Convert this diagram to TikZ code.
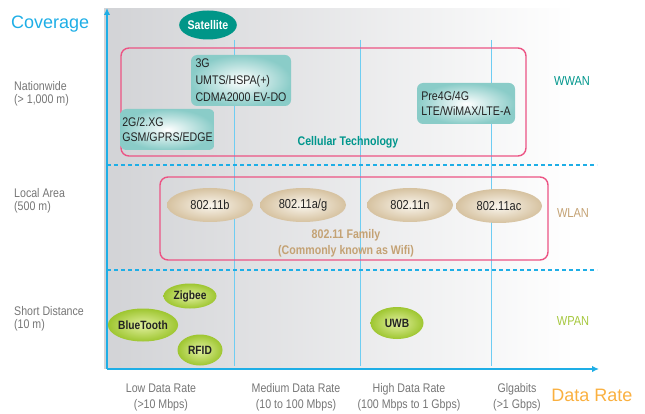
\documentclass[tikz,border=0pt]{standalone}
\usepackage{fontspec}
\setmainfont{Liberation Sans}[FakeStretch=0.85]
\newfontfamily\widefont{Liberation Sans}
\usetikzlibrary{shapes.geometric,arrows.meta}

\definecolor{axisblue}{RGB}{30,174,230}
\definecolor{gridblue}{RGB}{110,205,242}
\definecolor{panelgray}{RGB}{210,211,214}
\definecolor{frame}{RGB}{236,84,132}
\definecolor{tealdark}{RGB}{0,150,136}
\definecolor{tealtext}{RGB}{0,150,140}
\definecolor{tealbox}{RGB}{138,204,200}
\definecolor{tanedge}{RGB}{214,194,160}
\definecolor{tancore}{RGB}{250,246,238}
\definecolor{tantext}{RGB}{196,162,116}
\definecolor{greenedge}{RGB}{158,198,48}
\definecolor{greencore}{RGB}{226,240,160}
\definecolor{greentext}{RGB}{166,200,62}
\definecolor{labelgray}{RGB}{118,118,118}
\definecolor{orangetext}{RGB}{250,176,64}
\definecolor{ink}{RGB}{35,35,35}

\begin{document}
\begin{tikzpicture}[x=1pt,y=-1pt,
  axisline/.style={draw=axisblue,line width=2pt,-{Latex[length=7pt,width=6.5pt]}},
  gridline/.style={draw=gridblue,line width=0.9pt},
  zoneline/.style={draw=axisblue,line width=1.1pt,dash pattern=on 4pt off 3pt},
  groupframe/.style={draw=frame,line width=1.4pt,rounded corners=8pt},
  techbox/.style={rectangle,rounded corners=6pt,inner color=white,outer color=tealbox,
    align=left,inner sep=2pt,text=ink,font=\fontsize{12.5}{15}\selectfont},
  wifi/.style={ellipse,inner sep=0pt,minimum width=86pt,minimum height=34pt,
    inner color=tancore,outer color=tanedge,text=ink,font=\fontsize{13}{15}\selectfont},
  pan/.style={ellipse,inner sep=0pt,inner color=greencore,outer color=greenedge,
    text=ink,font=\bfseries\fontsize{12}{14}\selectfont},
  sidelabel/.style={align=left,text=labelgray,inner sep=0pt,anchor=west,
    font=\fontsize{12.5}{13}\selectfont},
  ratelabel/.style={align=center,text=labelgray,inner sep=0pt,
    font=\fontsize{12.5}{16}\selectfont},
  bandlabel/.style={inner sep=0pt,font=\fontsize{13}{15}\selectfont},
  axistitle/.style={inner sep=0pt,font=\widefont\fontsize{18}{20}\selectfont}]

\useasboundingbox (0,0) rectangle (645,414);

% shaded plotting area
\shade[left color=panelgray,right color=white] (104,9) rectangle (575,368);

% data-rate column separators
\coordinate (g1t) at (234,40);  \coordinate (g1b) at (234,366);
\coordinate (g2t) at (360,40);  \coordinate (g2b) at (360,366);
\coordinate (g3t) at (491,40);  \coordinate (g3b) at (491,366);
\draw[gridline] (g1t) -- (g1b);
\draw[gridline] (g2t) -- (g2b);
\draw[gridline] (g3t) -- (g3b);

% coverage zone separators
\coordinate (z1l) at (107,165); \coordinate (z1r) at (597,165);
\coordinate (z2l) at (107,270); \coordinate (z2r) at (597,270);
\draw[zoneline] (z1l) -- (z1r);
\draw[zoneline] (z2l) -- (z2r);

% group frames
\draw[groupframe] (121,48) rectangle (526,156);
\draw[groupframe] (160,177) rectangle (548,260);

% axes
\coordinate (origin) at (107,369);
\coordinate (ytop) at (107,8);
\coordinate (xend) at (599,369);
\draw[axisline] (origin) -- (ytop);
\draw[axisline] (origin) -- (xend);

% axis titles
\node[axistitle,text=axisblue,anchor=west] (covtitle) at (11,24) {Coverage};
\node[axistitle,text=orangetext] (ratetitle) at (592,395) {Data Rate};

% coverage labels
\node[sidelabel] (nation) at (14,93.5) {Nationwide\\(> 1,000 m)};
\node[sidelabel] (local) at (14,201) {Local Area\\(500 m)};
\node[sidelabel] (short) at (14,318.5) {Short Distance\\(10 m)};

% data-rate labels
\node[ratelabel] (low) at (161,397) {Low Data Rate\\(>10 Mbps)};
\node[ratelabel] (medium) at (296,397) {Medium Data Rate\\(10 to 100 Mbps)};
\node[ratelabel] (high) at (409,397) {High Data Rate\\(100 Mbps to 1 Gbps)};
\node[ratelabel] (giga) at (517,397) {Glgabits\\(>1 Gbps)};

% WWAN
\node[ellipse,fill=tealdark,inner sep=0pt,minimum width=57pt,minimum height=29pt,
  text=white,font=\bfseries\fontsize{12.5}{14}\selectfont] (sat) at (208,25) {Satellite};
\node[techbox,minimum width=100pt,minimum height=51pt,font=\fontsize{12.5}{17}\selectfont]
  (threeg) at (241,80.5) {3G\\UMTS/HSPA(+)\\CDMA2000 EV-DO};
\node[techbox,minimum width=93pt,minimum height=41pt] (twog) at (167.5,129.5) {2G/2.XG\\GSM/GPRS/EDGE};
\node[techbox,minimum width=98pt,minimum height=41pt] (fourg) at (466,103.5) {Pre4G/4G\\LTE/WiMAX/LTE-A};
\node[inner sep=0pt,text=tealtext,font=\bfseries\fontsize{12.5}{14}\selectfont]
  (cellular) at (348,142) {Cellular Technology};
\node[bandlabel,text=tealtext] (wwan) at (572,81) {WWAN};

% WLAN
\node[wifi] (b) at (210,205) {802.11b};
\node[wifi] (ag) at (303,205) {802.11a/g};
\node[wifi] (n) at (410,205) {802.11n};
\node[wifi] (ac) at (499,206) {802.11ac};
\node[align=center,inner sep=0pt,text=tantext,font=\bfseries\fontsize{12.5}{16}\selectfont]
  (family) at (346,243) {802.11 Family\\(Commonly known as Wifi)};
\node[bandlabel,text=tantext] (wlan) at (573,213) {WLAN};

% WPAN
\node[pan,minimum width=53pt,minimum height=25pt] (zigbee) at (190,296) {Zigbee};
\node[pan,minimum width=66pt,minimum height=33pt] (bt) at (143,325) {BlueTooth};
\node[pan,minimum width=45pt,minimum height=31pt] (rfid) at (200,350) {RFID};
\node[pan,minimum width=53pt,minimum height=32pt] (uwb) at (397,323) {UWB};
\node[bandlabel,text=greentext] (wpan) at (573,321) {WPAN};

\end{tikzpicture}
\end{document}
